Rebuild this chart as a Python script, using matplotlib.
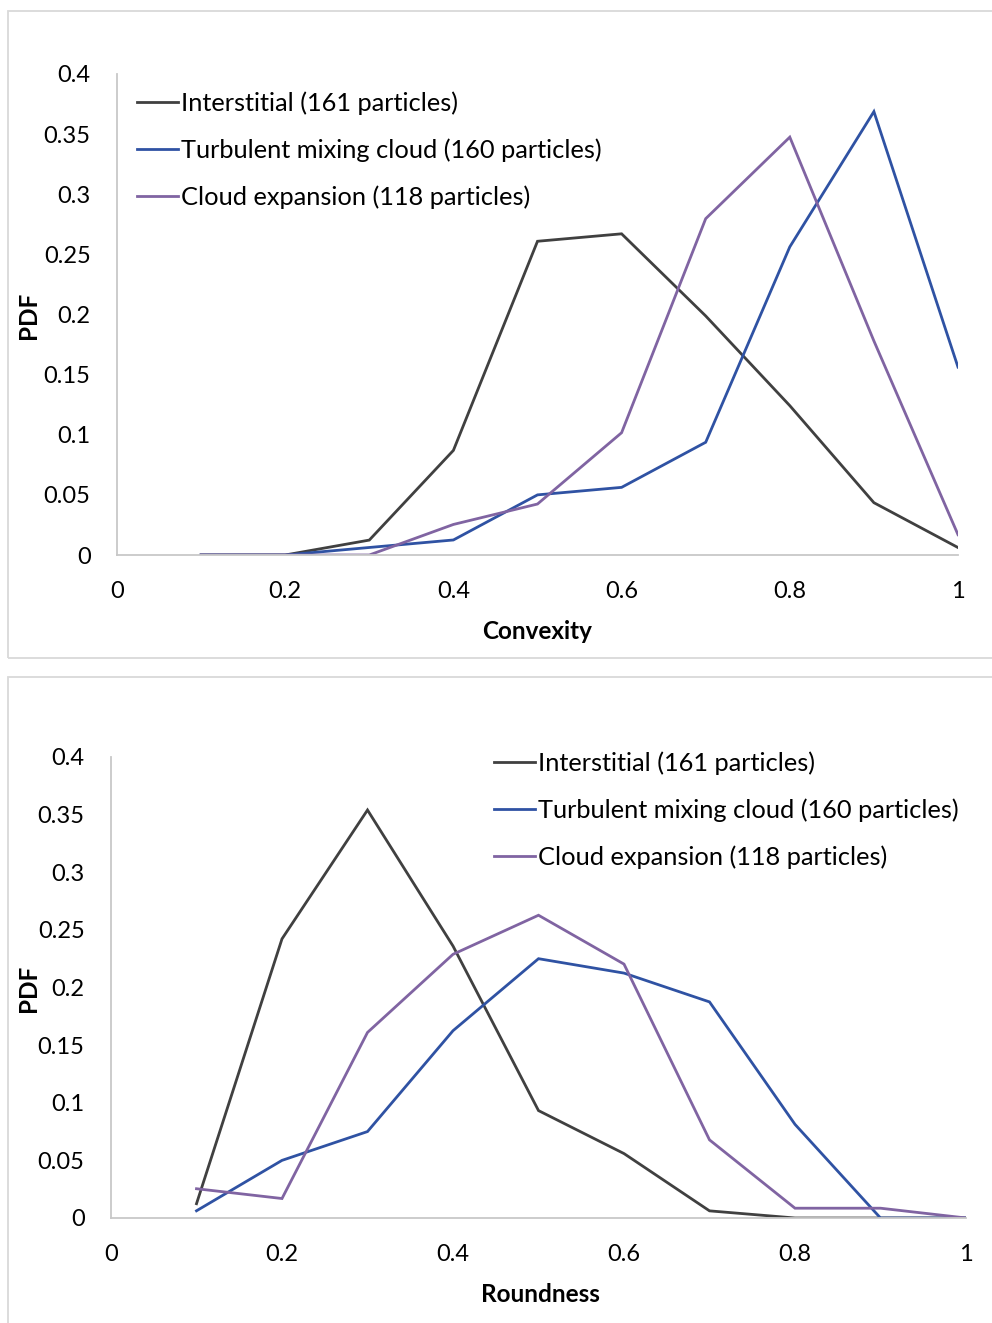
import matplotlib
matplotlib.use("Agg")
import matplotlib.pyplot as plt
from matplotlib.patches import Rectangle
from matplotlib.ticker import FixedLocator, FixedFormatter

plt.rcParams['font.family'] = ['Lato', 'DejaVu Sans']

# Bin centres shared by both histograms
bins = [0.1, 0.2, 0.3, 0.4, 0.5, 0.6, 0.7, 0.8, 0.9, 1.0]

series_names = ["Interstitial (161 particles)",
                "Turbulent mixing cloud (160 particles)",
                "Cloud expansion (118 particles)"]
series_colors = ["#404040", "#2f52a3", "#8064a2"]

# Convexity PDFs
convexity_interstitial = [0.0, 0.0, 0.0124, 0.0870, 0.2609, 0.2671, 0.1988, 0.1242, 0.0435, 0.0062]
convexity_turbulent = [0.0, 0.0, 0.00625, 0.0125, 0.05, 0.05625, 0.09375, 0.25625, 0.36875, 0.15625]
convexity_expansion = [0.0, 0.0, 0.0, 0.0254, 0.0424, 0.1017, 0.2797, 0.3475, 0.1780, 0.0169]

# Roundness PDFs
roundness_interstitial = [0.0124, 0.2422, 0.3540, 0.2360, 0.0932, 0.0559, 0.0062, 0.0, 0.0, 0.0]
roundness_turbulent = [0.00625, 0.05, 0.075, 0.1625, 0.225, 0.2125, 0.1875, 0.08125, 0.0, 0.0]
roundness_expansion = [0.0254, 0.0169, 0.1610, 0.2288, 0.2627, 0.2203, 0.0678, 0.0085, 0.0085, 0.0]

x_ticks = [0, 0.2, 0.4, 0.6, 0.8, 1.0]
x_ticklabels = ["0", "0.2", "0.4", "0.6", "0.8", "1"]
y_ticks = [0, 0.05, 0.1, 0.15, 0.2, 0.25, 0.3, 0.35, 0.4]
y_ticklabels = ["0", "0.05", "0.1", "0.15", "0.2", "0.25", "0.3", "0.35", "0.4"]

W, H = 992, 1323
fig = plt.figure(figsize=(W / 100, H / 100), dpi=100)

# Light grey chart-area borders
for (x0, y0, x1, y1) in [(8, 11, 1000, 658), (8, 677, 1000, 1330)]:
    fig.patches.append(Rectangle((x0 / W, 1 - y1 / H), (x1 - x0) / W, (y1 - y0) / H,
                                 transform=fig.transFigure, fill=False,
                                 edgecolor="#d9d9d9", linewidth=1.3))


def make_panel(rect, data, xlabel, legend_anchor):
    ax = fig.add_axes(rect)
    for vals, name, col in zip(data, series_names, series_colors):
        ax.plot(bins, vals, color=col, linewidth=2.0, label=name, solid_joinstyle='miter')
    ax.set_xlim(0, 1)
    ax.set_ylim(0, 0.4)
    ax.xaxis.set_major_locator(FixedLocator(x_ticks))
    ax.xaxis.set_major_formatter(FixedFormatter(x_ticklabels))
    ax.yaxis.set_major_locator(FixedLocator(y_ticks))
    ax.yaxis.set_major_formatter(FixedFormatter(y_ticklabels))
    ax.tick_params(axis='both', length=0, labelsize=17, colors="#000000")
    ax.tick_params(axis='y', pad=19)
    ax.tick_params(axis='x', pad=19)
    for s in ("top", "right"):
        ax.spines[s].set_visible(False)
    for s in ("left", "bottom"):
        ax.spines[s].set_color("#c8c8c8")
        ax.spines[s].set_linewidth(1.3)
    ax.set_xlabel(xlabel, fontsize=17.5, fontweight='bold')
    ax.set_ylabel("PDF", fontsize=17.5, fontweight='bold')
    ax.patch.set_alpha(0)
    ax.legend(loc='upper left', bbox_to_anchor=legend_anchor, bbox_transform=fig.transFigure,
              frameon=False, fontsize=18.3, handlelength=1.62, handletextpad=0.12,
              labelspacing=0.93, borderaxespad=0, borderpad=0)
    return ax


ax1 = make_panel([117 / W, 1 - 555 / H, 841 / W, 481 / H],
                 [convexity_interstitial, convexity_turbulent, convexity_expansion],
                 "Convexity", (137 / W, 1 - 91 / H))
ax1.yaxis.set_label_coords(40 / W, 1 - 315 / H, transform=fig.transFigure)
ax1.xaxis.set_label_coords(537 / W, 1 - 620 / H, transform=fig.transFigure)

ax2 = make_panel([111 / W, 1 - 1218 / H, 855 / W, 461 / H],
                 [roundness_interstitial, roundness_turbulent, roundness_expansion],
                 "Roundness", (494 / W, 1 - 751 / H))
ax2.yaxis.set_label_coords(40 / W, 1 - 988 / H, transform=fig.transFigure)
ax2.xaxis.set_label_coords(540 / W, 1 - 1283 / H, transform=fig.transFigure)

fig.savefig("out.png", dpi=100)
